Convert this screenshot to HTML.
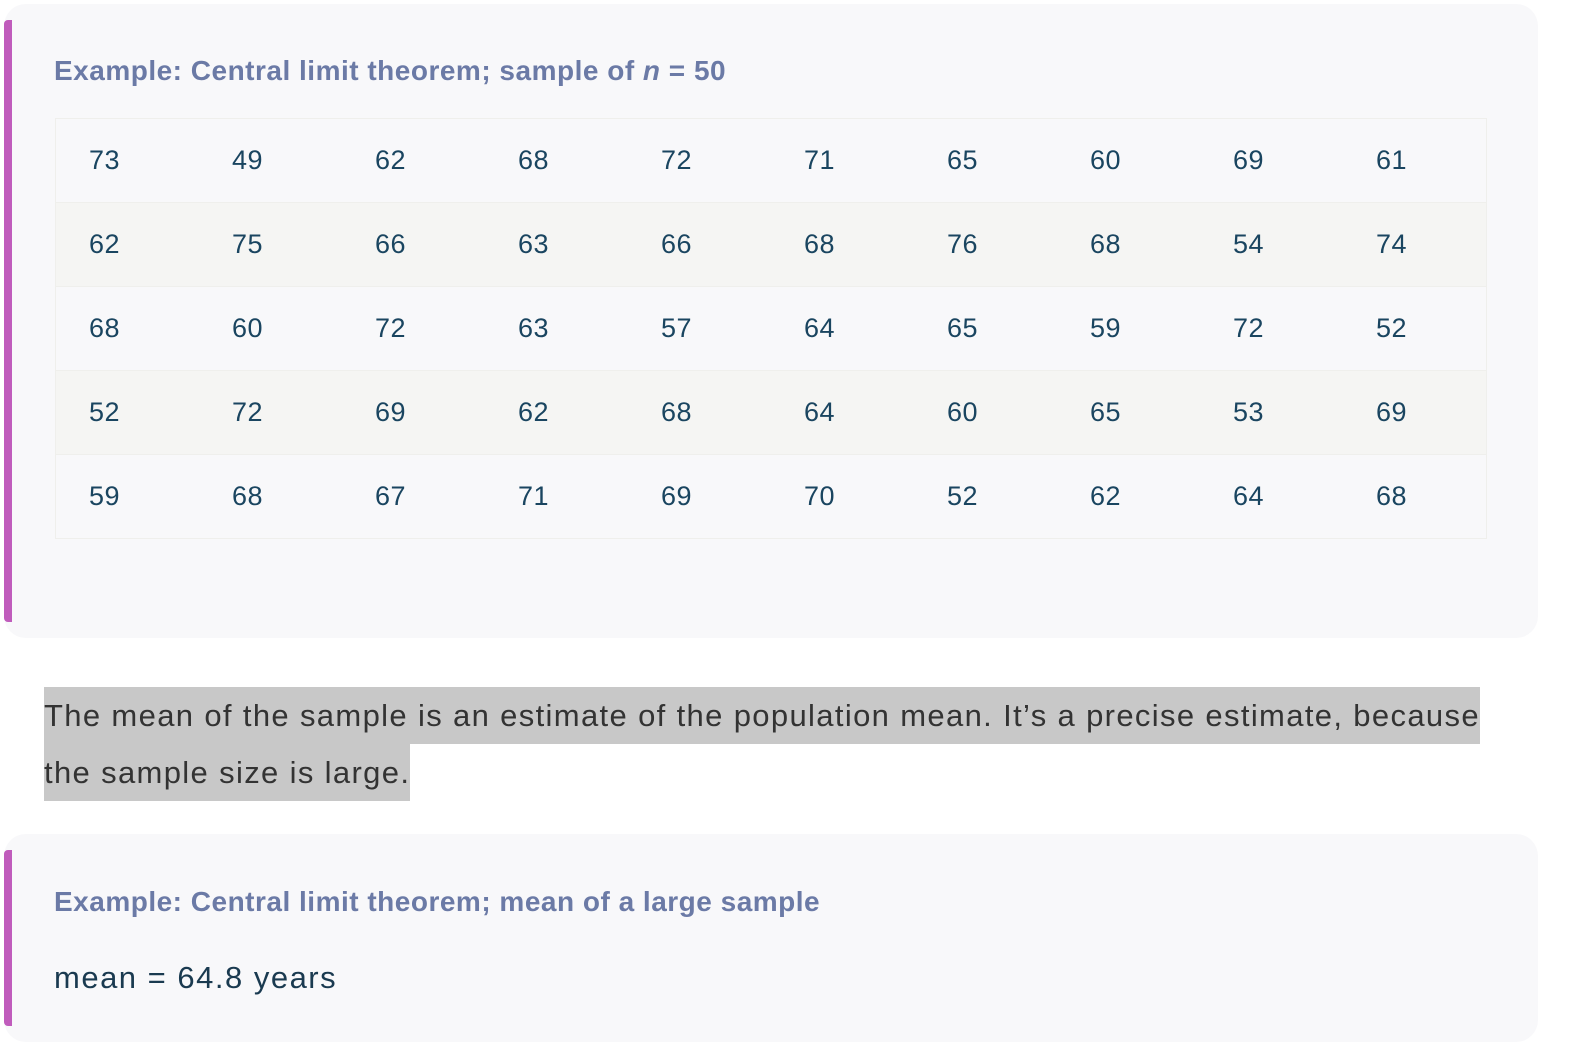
<!DOCTYPE html>
<html><head><meta charset="utf-8">
<style>
body{margin:0;width:1574px;height:1060px;background:#fff;font-family:"Liberation Sans",sans-serif;position:relative;overflow:hidden}
.card{position:absolute;left:4px;width:1534px;background:#f8f8fa;border-radius:22px}
.bar{position:absolute;left:0;width:8px;background:#c05cbc;border-radius:4px 0 0 4px}
.title{position:absolute;left:50px;font-size:28px;font-weight:bold;color:#6b7aa6;letter-spacing:0.5px;white-space:nowrap}
table{position:absolute;left:55px;top:118px;width:1432px;border-collapse:collapse;background:#f8f8fa;border:1px solid #efefec}
td{height:83px;padding:0 0 0 33px;font-size:27px;color:#1a4560;width:110px;border-top:1px solid #efefec;letter-spacing:0.5px}
tr:nth-child(even) td{background:#f5f5f3}
.para{position:absolute;left:44px;top:687px;font-size:31px;color:#333;width:1520px;letter-spacing:1.35px}
.para span{background:#c8c8c8;display:inline-block;height:57px;line-height:57px;white-space:nowrap}
</style></head><body>
<div class="card" style="top:4px;height:634px">
<div class="bar" style="top:16px;height:602px"></div>
<div class="title" style="top:51px">Example: Central limit theorem; sample of <i>n</i> = 50</div>
</div>
<table>
<tr><td>73</td><td>49</td><td>62</td><td>68</td><td>72</td><td>71</td><td>65</td><td>60</td><td>69</td><td>61</td></tr>
<tr><td>62</td><td>75</td><td>66</td><td>63</td><td>66</td><td>68</td><td>76</td><td>68</td><td>54</td><td>74</td></tr>
<tr><td>68</td><td>60</td><td>72</td><td>63</td><td>57</td><td>64</td><td>65</td><td>59</td><td>72</td><td>52</td></tr>
<tr><td>52</td><td>72</td><td>69</td><td>62</td><td>68</td><td>64</td><td>60</td><td>65</td><td>53</td><td>69</td></tr>
<tr><td>59</td><td>68</td><td>67</td><td>71</td><td>69</td><td>70</td><td>52</td><td>62</td><td>64</td><td>68</td></tr>
</table>
<div class="para"><span>The mean of the sample is an estimate of the population mean. It’s a precise estimate, because</span><br><span>the sample size is large.</span></div>
<div class="card" style="top:834px;height:208px">
<div class="bar" style="top:16px;height:176px"></div>
<div class="title" style="top:52px">Example: Central limit theorem; mean of a large sample</div>
<div style="position:absolute;left:50px;top:126px;font-size:31px;letter-spacing:1.5px;color:#1a3a50;white-space:nowrap">mean = 64.8 years</div>
</div>
</body></html>
